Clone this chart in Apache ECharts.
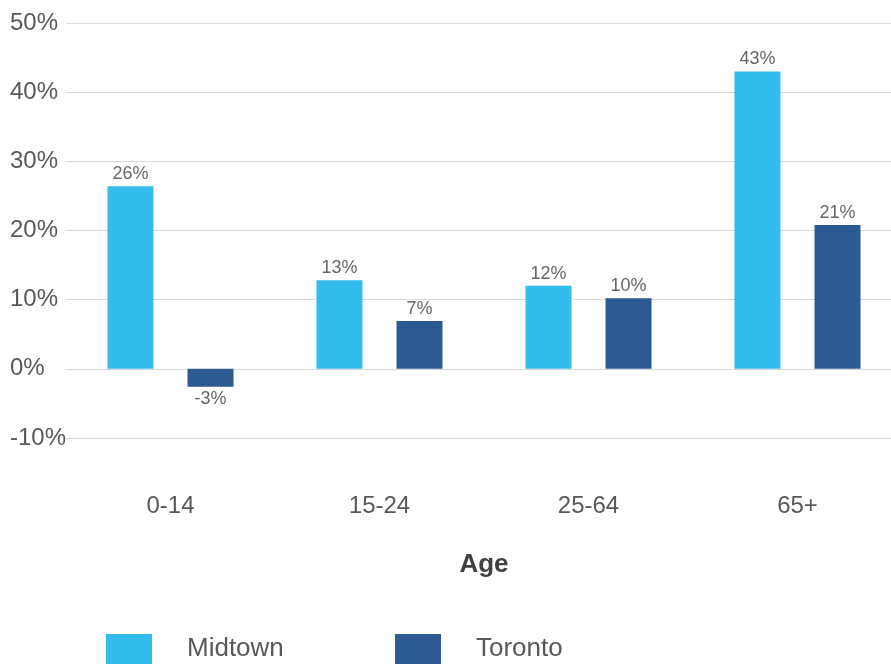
<!DOCTYPE html>
<html>
<head>
<meta charset="utf-8">
<script src="https://cdn.jsdelivr.net/npm/echarts@6/dist/echarts.min.js"></script>
<style>
  html, body { margin: 0; padding: 0; background: #ffffff; }
  #chart { width: 891px; height: 664px; }
</style>
</head>
<body>
<div id="chart"></div>
<script>
// Population change by age group (%)
const categories = ['0-14', '15-24', '25-64', '65+'];
const seriesNames = ['Midtown', 'Toronto'];
const midtownValues = [26.4, 12.8, 12.0, 43.0];
const torontoValues = [-2.6, 6.9, 10.2, 20.8];
const yTicks = { min: -10, max: 50, interval: 10 };
const axisTitle = 'Age';

const FONT = '"Liberation Sans", Arial, sans-serif';
const colors = ['#33bdec', '#2d5a92'];

function barData(values) {
  return values.map(v => ({
    value: v,
    label: { position: v < 0 ? 'bottom' : 'top' }
  }));
}

function legendBlock(name, left) {
  return {
    data: [name], left: left, top: 634, padding: 0,
    itemWidth: 46, itemHeight: 30, icon: 'rect',
    textStyle: { fontFamily: FONT, fontSize: 26, color: '#595959', padding: [0, 0, 0, 30] }
  };
}

function labelStyle() {
  return {
    show: true, distance: 3,
    fontFamily: FONT, fontSize: 18, color: '#666666',
    formatter: p => Math.round(p.value) + '%'
  };
}

const chart = echarts.init(document.getElementById('chart'), null, { renderer: 'canvas' });

chart.setOption({
  backgroundColor: '#ffffff',
  animation: false,
  grid: { left: 66, right: -11, top: 23, height: 415, containLabel: false, outerBoundsMode: 'none' },
  legend: [legendBlock(seriesNames[0], 106), legendBlock(seriesNames[1], 395)],
  xAxis: {
    type: 'category',
    data: categories,
    name: axisTitle,
    nameLocation: 'middle',
    nameGap: 114,
    nameTextStyle: { fontFamily: FONT, fontSize: 26, fontWeight: 'bold', color: '#404040' },
    axisLine: { show: false },
    axisTick: { show: false },
    axisLabel: { fontFamily: FONT, fontSize: 24, color: '#595959', margin: 56 }
  },
  yAxis: {
    type: 'value',
    min: yTicks.min, max: yTicks.max, interval: yTicks.interval,
    axisLine: { show: false },
    axisTick: { show: false },
    splitLine: { lineStyle: { color: '#d9d9d9', width: 1 } },
    axisLabel: {
      fontFamily: FONT, fontSize: 24, color: '#595959',
      align: 'left', margin: 56,
      formatter: v => v + '%'
    }
  },
  series: [
    {
      name: seriesNames[0], type: 'bar', data: barData(midtownValues),
      barWidth: 46, barGap: '74%',
      itemStyle: { color: colors[0] },
      label: labelStyle()
    },
    {
      name: seriesNames[1], type: 'bar', data: barData(torontoValues),
      barWidth: 46, barGap: '74%',
      itemStyle: { color: colors[1] },
      label: labelStyle()
    }
  ]
});
</script>
</body>
</html>
